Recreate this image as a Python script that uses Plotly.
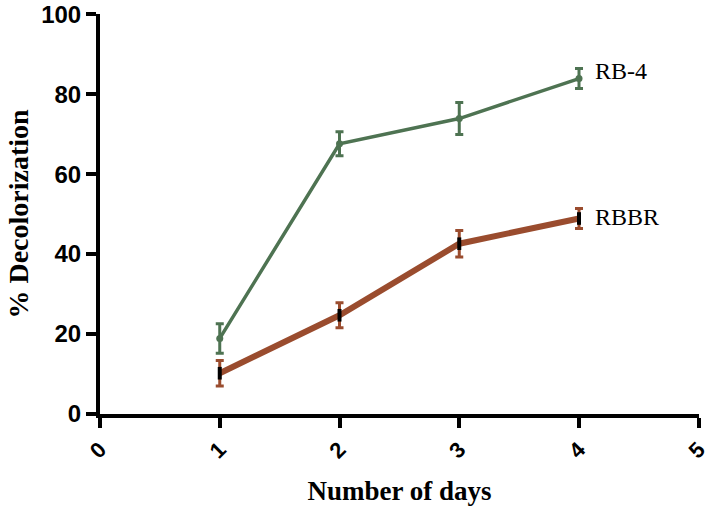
import plotly.graph_objects as go

days = [1, 2, 3, 4]
rb4 = [18.9, 67.6, 73.9, 83.9]
rb4_err = [3.7, 3.0, 4.0, 2.5]
rbbr = [10.2, 24.7, 42.6, 48.9]
rbbr_err = [3.2, 3.1, 3.3, 2.5]
x_ticks = [0, 1, 2, 3, 4, 5]
y_ticks = [0, 20, 40, 60, 80, 100]

green = "#4e7352"
brown = "#9a4c2e"

fig = go.Figure()
fig.add_trace(go.Scatter(
    x=days, y=rb4, mode="lines+markers", name="RB-4",
    line=dict(color=green, width=3.5),
    marker=dict(symbol="circle", size=7, color=green),
    error_y=dict(type="data", array=rb4_err, color=green, thickness=3, width=4),
    cliponaxis=False,
))
fig.add_trace(go.Scatter(
    x=days, y=rbbr, mode="lines+markers", name="RBBR",
    line=dict(color=brown, width=6),
    marker=dict(symbol="line-ns", size=9, color="black", line=dict(color="black", width=4)),
    error_y=dict(type="data", array=rbbr_err, color=brown, thickness=3, width=4),
    cliponaxis=False,
))

fig.add_annotation(x=days[-1], y=rb4[-1] + 2, text="RB-4", showarrow=False,
                   xanchor="left", xshift=14,
                   font=dict(family="Liberation Serif", size=24, color="black"))
fig.add_annotation(x=days[-1], y=rbbr[-1] + 0.5, text="RBBR", showarrow=False,
                   xanchor="left", xshift=14,
                   font=dict(family="Liberation Serif", size=24, color="black"))

fig.update_layout(
    width=710, height=510,
    margin=dict(l=100, r=11, t=14, b=96),
    plot_bgcolor="white", paper_bgcolor="white",
    showlegend=False,
    xaxis=dict(
        range=[0, 5.002], tickvals=x_ticks, ticktext=[str(v) for v in x_ticks],
        tickangle=-45, showgrid=False, zeroline=False, automargin=False,
        ticklabeloverflow="allow",
        showline=True, linecolor="black", linewidth=4,
        ticks="outside", ticklen=10, tickwidth=4, tickcolor="black",
        tickfont=dict(family="Liberation Sans", size=22, color="black", weight="bold"),
        title=dict(text="Number of days", standoff=20,
                   font=dict(family="Liberation Serif", size=27, color="black", weight="bold")),
    ),
    yaxis=dict(
        range=[0, 100.05], tickvals=y_ticks, ticktext=[str(v) for v in y_ticks],
        showgrid=False, zeroline=False, automargin=False,
        ticklabeloverflow="allow",
        showline=True, linecolor="black", linewidth=4,
        ticks="outside", ticklen=10, tickwidth=4, tickcolor="black",
        tickfont=dict(family="Liberation Sans", size=24, color="black", weight="bold"),
        title=dict(text="% Decolorization", standoff=5,
                   font=dict(family="Liberation Serif", size=28, color="black", weight="bold")),
    ),
)

fig.write_html("out.html", config={"displayModeBar": False},
               post_script="document.body.style.margin='0';")
